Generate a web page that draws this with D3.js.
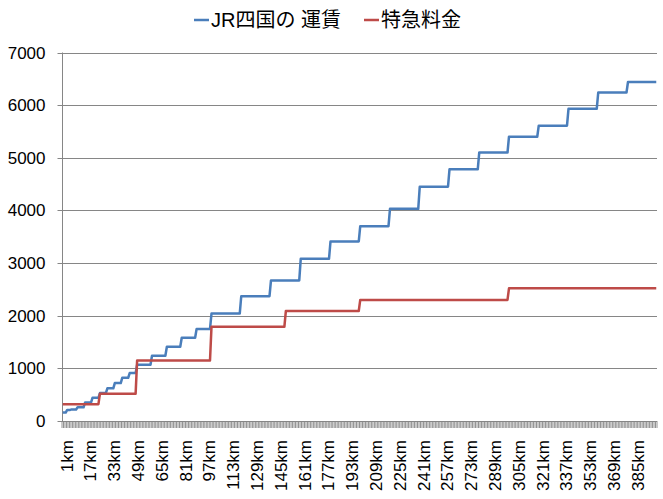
<!DOCTYPE html>
<html>
<head>
<meta charset="utf-8">
<script src="https://cdn.jsdelivr.net/npm/d3@7"></script>
<style>
  html, body { margin: 0; padding: 0; background: #fff; }
  svg { display: block; }
  text { font-family: "Liberation Sans", "Noto Sans CJK JP", sans-serif; }
</style>
</head>
<body>
<svg id="chart" width="663" height="499"></svg>
<script>
// ---- data ----
const seriesNames = ["JR四国の 運賃", "特急料金"];
const maxKm = 400;
// JR四国の運賃: fare bands (upper km limit of each band) and fare values (yen)
const fareBandMaxKm = [3, 6, 10, 15, 20, 25, 30, 35, 40, 45, 50, 60, 70, 80, 90, 100,
  120, 140, 160, 180, 200, 220, 240, 260, 280, 300, 320, 340, 360, 380, 400];
const fareValues = [160, 210, 220, 260, 350, 440, 530, 620, 720, 820, 910, 1070, 1240, 1410, 1580, 1750,
  2040, 2370, 2670, 3080, 3410, 3700, 4030, 4450, 4780, 5100, 5400, 5610, 5930, 6240, 6440];
// 特急料金: bands and values (yen)
const expressBandMaxKm = [25, 50, 100, 150, 200, 300, 400];
const expressValues = [320, 520, 1150, 1790, 2090, 2300, 2520];
const yTicks = [0, 1000, 2000, 3000, 4000, 5000, 6000, 7000];
const xLabelStep = 16;

// ---- build per-km categories from the bands (lookup, not interpolation) ----
const kms = d3.range(1, maxKm + 1);
const categories = kms.map(k => k + "km");
function lookup(bands, vals, k) { return vals[d3.bisectLeft(bands, k)]; }
const fareSeries = kms.map(k => ({ cat: k + "km", v: lookup(fareBandMaxKm, fareValues, k) }));
const expressSeries = kms.map(k => ({ cat: k + "km", v: lookup(expressBandMaxKm, expressValues, k) }));
const xLabels = categories.filter((c, i) => i % xLabelStep === 0);

// ---- layout ----
const svg = d3.select("#chart");
const L = 62, R = 657, T = 52.5, B = 421;
const gridColor = "#868686";
const colors = ["#4a7ebb", "#be4b48"];

const x = d3.scaleBand().domain(categories).range([L, R]).padding(0);
const y = d3.scaleLinear().domain([0, 7000]).range([B, T]);
const cx = d => x(d) + x.bandwidth() / 2;

// gridlines
svg.append("g").selectAll("line").data(yTicks.filter(v => v > 0)).join("line")
  .attr("x1", L).attr("x2", R)
  .attr("y1", d => Math.round(y(d)) + 0.5).attr("y2", d => Math.round(y(d)) + 0.5)
  .attr("stroke", gridColor).attr("stroke-width", 1);

// y axis
const yAxis = svg.append("g").attr("transform", `translate(${L + 0.5},0)`)
  .call(d3.axisLeft(y).tickValues(yTicks).tickSize(5).tickPadding(12).tickFormat(d3.format("d")));
yAxis.select(".domain").attr("stroke", gridColor).attr("d", `M0,${T}V${B}`);
yAxis.selectAll(".tick line").attr("stroke", gridColor);
yAxis.selectAll(".tick text").attr("fill", "#000").style("font-size", "17px");
yAxis.selectAll(".tick").attr("transform", d => `translate(0,${Math.round(y(d)) + 0.5})`);

// x axis line + minor ticks at category boundaries
const xAxisG = svg.append("g");
xAxisG.append("line").attr("x1", L).attr("x2", R)
  .attr("y1", Math.round(B) + 0.5).attr("y2", Math.round(B) + 0.5).attr("stroke", gridColor);
const boundaries = categories.map(c => x(c)).concat([R]);
xAxisG.selectAll("line.tk").data(boundaries).join("line").attr("class", "tk")
  .attr("x1", d => d).attr("x2", d => d)
  .attr("y1", B).attr("y2", B + 7)
  .attr("stroke", gridColor).attr("stroke-width", 0.9);

// x labels
xAxisG.selectAll("text.xl").data(xLabels).join("text").attr("class", "xl")
  .attr("transform", d => `translate(${cx(d) + 4},440) rotate(-90)`)
  .attr("text-anchor", "end").attr("dy", "0.35em")
  .style("font-size", "17px").attr("fill", "#000")
  .text(d => d);

// lines
const line = d3.line().x(d => cx(d.cat)).y(d => y(d.v));
[fareSeries, expressSeries].forEach((s, i) => {
  svg.append("path").datum(s).attr("d", line)
    .attr("fill", "none").attr("stroke", colors[i])
    .attr("stroke-width", 2.5).attr("stroke-linejoin", "round");
});

// legend
const legendItems = [{ name: seriesNames[0], x: 194 }, { name: seriesNames[1], x: 364 }];
const lg = svg.append("g");
legendItems.forEach((it, i) => {
  lg.append("line").attr("x1", it.x).attr("x2", it.x + 15).attr("y1", 20).attr("y2", 20)
    .attr("stroke", colors[i]).attr("stroke-width", 2.5);
  lg.append("text").attr("x", it.x + 17).attr("y", 20).attr("dy", "0.35em")
    .style("font-size", "20px").attr("fill", "#000").text(it.name);
});
</script>
</body>
</html>
